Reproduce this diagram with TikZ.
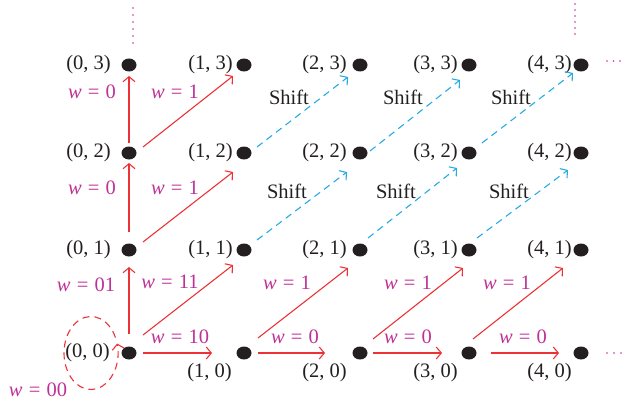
\documentclass[tikz,border=0pt]{standalone}
\usepackage{fontspec}
\setmainfont{Liberation Serif}
\usetikzlibrary{arrows.meta,shapes.geometric}
\definecolor{cred}{RGB}{237,50,55}
\definecolor{cmag}{RGB}{190,50,150}
\definecolor{cblue}{RGB}{40,170,226}
\definecolor{cblack}{RGB}{35,31,32}
\newcommand{\wl}[1]{\textit{w}\hspace{0.3em}=\hspace{0.3em}#1}
\begin{document}
\begin{tikzpicture}[x=1pt,y=1pt,
  dotnode/.style={ellipse, fill=cblack, minimum width=15pt, minimum height=13pt, inner sep=0pt},
  lbl/.style={font=\fontsize{20.5}{23}\selectfont, text=cblack, inner sep=0pt},
  wlbl/.style={font=\fontsize{20.5}{23}\selectfont, text=cmag, inner sep=0pt},
  redarrow/.style={draw=cred, line width=1.1pt, -{Straight Barb[length=5pt,width=12pt]}},
  bluearrow/.style={draw=cblue, line width=1.1pt, dash pattern=on 7pt off 5pt, -{Straight Barb[length=5pt,width=12pt]}},
  loopstyle/.style={draw=cred, line width=1.1pt, dash pattern=on 7pt off 5pt, -{Straight Barb[length=5pt,width=12pt]}},
  pdot/.style={fill=cmag, draw=none}
]
\useasboundingbox (0,0) rectangle (626,-404);

% dots
\foreach \c/\x in {0/129,1/244,2/360,3/469,4/581}{
  \foreach \r/\y in {0/353,1/250,2/153,3/65}{
    \node[dotnode] (n\c\r) at (\x,-\y) {};
  }
}

% coordinate labels
\foreach \r/\y in {1/250,2/153,3/65}{
  \node[lbl, anchor=east] (l0\r) at (111,-\y) {(0, \r)};
  \node[lbl, anchor=east] (l1\r) at (233,-\y) {(1, \r)};
  \node[lbl, anchor=east] (l2\r) at (347,-\y) {(2, \r)};
  \node[lbl, anchor=east] (l3\r) at (458,-\y) {(3, \r)};
  \node[lbl, anchor=east] (l4\r) at (572,-\y) {(4, \r)};
}
\node[lbl, anchor=east] (l00) at (110,-353) {(0, 0)};
\node[lbl, anchor=east] (l10) at (232,-373) {(1, 0)};
\node[lbl, anchor=east] (l20) at (347,-373) {(2, 0)};
\node[lbl, anchor=east] (l30) at (458,-373) {(3, 0)};
\node[lbl, anchor=east] (l40) at (572,-373) {(4, 0)};

% red vertical arrows
\draw[redarrow] ([shift={(0,19)}]n00.center) -- ([shift={(0,-17)}]n01.center);
\draw[redarrow] ([shift={(0,18)}]n01.center) -- ([shift={(0,-10)}]n02.center);
\draw[redarrow] ([shift={(0,10)}]n02.center) -- ([shift={(0,-11)}]n03.center);

% red diagonal arrows
\draw[redarrow] ([shift={(14,6)}]n02.center) -- ([shift={(-11,-11)}]n13.center);
\draw[redarrow] ([shift={(14,8)}]n01.center) -- ([shift={(-11,-19)}]n12.center);
\draw[redarrow] ([shift={(14,18)}]n00.center) -- ([shift={(-11,-15)}]n11.center);
\draw[redarrow] ([shift={(14,15)}]n10.center) -- ([shift={(-12,-18)}]n21.center);
\draw[redarrow] ([shift={(13,14)}]n20.center) -- ([shift={(-6,-18)}]n31.center);
\draw[redarrow] ([shift={(4,14)}]n30.center) -- ([shift={(-18,-18)}]n41.center);

% red horizontal arrows
\draw[redarrow] ([shift={(14,0)}]n00.center) -- ([shift={(-32,0)}]n10.center);
\draw[redarrow] ([shift={(14,0)}]n10.center) -- ([shift={(-35,0)}]n20.center);
\draw[redarrow] ([shift={(13,0)}]n20.center) -- ([shift={(-27,0)}]n30.center);
\draw[redarrow] ([shift={(22,0)}]n30.center) -- ([shift={(-22,0)}]n40.center);

% blue dashed shift arrows
\draw[bluearrow] ([shift={(13,6)}]n12.center) -- ([shift={(-12,-12)}]n23.center);
\draw[bluearrow] ([shift={(10,2)}]n22.center) -- ([shift={(-9,-15)}]n33.center);
\draw[bluearrow] ([shift={(13,10)}]n32.center) -- ([shift={(-8,-8)}]n43.center);
\draw[bluearrow] ([shift={(13,10)}]n11.center) -- ([shift={(-13,-19)}]n22.center);
\draw[bluearrow] ([shift={(8,12)}]n21.center) -- ([shift={(-12,-15)}]n32.center);
\draw[bluearrow] ([shift={(8,12)}]n31.center) -- ([shift={(-13,-17)}]n42.center);

% self loop at (0,0)
\coordinate (loopc) at ([shift={(-38,0)}]n00.center);
\draw[loopstyle] ([shift={({27*cos(25)},{36.5*sin(25)})}]loopc) arc[start angle=25, end angle=375, x radius=27, y radius=36.5];

% Shift labels
\node[lbl] (s1) at (289,-97) {Shift};
\node[lbl] (s2) at (403,-97) {Shift};
\node[lbl] (s3) at (511,-97) {Shift};
\node[lbl] (s4) at (287,-191) {Shift};
\node[lbl] (s5) at (396,-191) {Shift};
\node[lbl] (s6) at (509,-191) {Shift};

% weight labels
\node[wlbl] (w1) at (92,-92) {\wl{0}};
\node[wlbl] (w2) at (175,-92) {\wl{1}};
\node[wlbl] (w3) at (92,-188) {\wl{0}};
\node[wlbl] (w4) at (175,-188) {\wl{1}};
\node[wlbl] (w5) at (86,-285) {\wl{01}};
\node[wlbl] (w6) at (170,-282) {\wl{11}};
\node[wlbl] (w7) at (180,-337) {\wl{10}};
\node[wlbl] (w8) at (38,-390) {\wl{00}};
\node[wlbl] (w9) at (287,-283) {\wl{1}};
\node[wlbl] (w10) at (408,-283) {\wl{1}};
\node[wlbl] (w11) at (507,-283) {\wl{1}};
\node[wlbl] (w12) at (295,-337) {\wl{0}};
\node[wlbl] (w13) at (408,-337) {\wl{0}};
\node[wlbl] (w14) at (523,-337) {\wl{0}};

% continuation dots
\foreach \y in {8,15,22,29,36,43}{ \fill[pdot] (133,-\y) circle (0.9); }
\foreach \y in {4,10,16,22,28,34}{ \fill[pdot] (575,-\y) circle (0.9); }
\foreach \x in {607,613.5,620}{ \fill[pdot] (\x,-61) circle (0.9); }
\foreach \x in {607,614,621}{ \fill[pdot] (\x,-353) circle (0.9); }
\end{tikzpicture}
\end{document}
